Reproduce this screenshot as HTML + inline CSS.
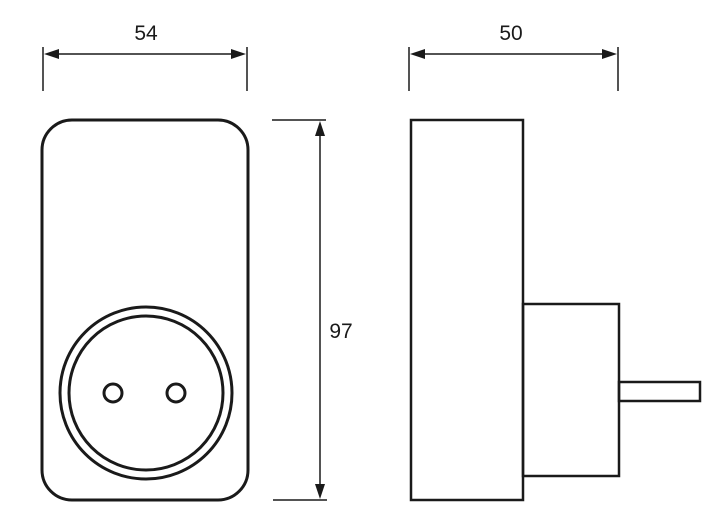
<!DOCTYPE html>
<html><head><style>html,body{margin:0;padding:0;background:#fff;}svg{display:block}</style></head>
<body>
<svg width="720" height="530" viewBox="0 0 720 530" xmlns="http://www.w3.org/2000/svg">
<g fill="none" stroke="#1a1a1a">
<!-- 54 dimension -->
<line x1="43" y1="47" x2="43" y2="91" stroke-width="1.5"/>
<line x1="247" y1="47" x2="247" y2="91" stroke-width="1.5"/>
<line x1="50" y1="54" x2="240" y2="54" stroke-width="1.5"/>
<!-- 50 dimension -->
<line x1="409" y1="47" x2="409" y2="91" stroke-width="1.5"/>
<line x1="618" y1="47" x2="618" y2="91" stroke-width="1.5"/>
<line x1="416" y1="54" x2="611" y2="54" stroke-width="1.5"/>
<!-- 97 dimension -->
<line x1="272" y1="120" x2="326" y2="120" stroke-width="1.5"/>
<line x1="273" y1="500" x2="327" y2="500" stroke-width="1.5"/>
<line x1="320" y1="127" x2="320" y2="493" stroke-width="1.5"/>
<!-- front body -->
<rect x="42" y="120" width="206" height="380" rx="30" ry="30" stroke-width="3"/>
<circle cx="146" cy="393" r="86" stroke-width="3"/>
<circle cx="146" cy="393" r="77" stroke-width="3"/>
<circle cx="113" cy="393" r="9" stroke-width="3"/>
<circle cx="176" cy="393" r="9" stroke-width="3"/>
<!-- side -->
<rect x="411" y="120" width="112" height="380" stroke-width="2.5"/>
<rect x="523" y="304" width="96" height="172" stroke-width="2.5"/>
<rect x="619" y="382" width="81" height="19" stroke-width="2.5"/>
</g>
<g fill="#1a1a1a">
<polygon points="44,54 59,49 59,59"/>
<polygon points="246,54 231,49 231,59"/>
<polygon points="410,54 425,49 425,59"/>
<polygon points="617,54 602,49 602,59"/>
<polygon points="320,121 315,136 325,136"/>
<polygon points="320,499 315,484 325,484"/>
</g>
<g font-family="Liberation Sans, sans-serif" font-size="21" fill="#1a1a1a" text-anchor="middle">
<text x="146" y="40">54</text>
<text x="511" y="40">50</text>
<text x="341" y="338">97</text>
</g>
</svg>
</body></html>
